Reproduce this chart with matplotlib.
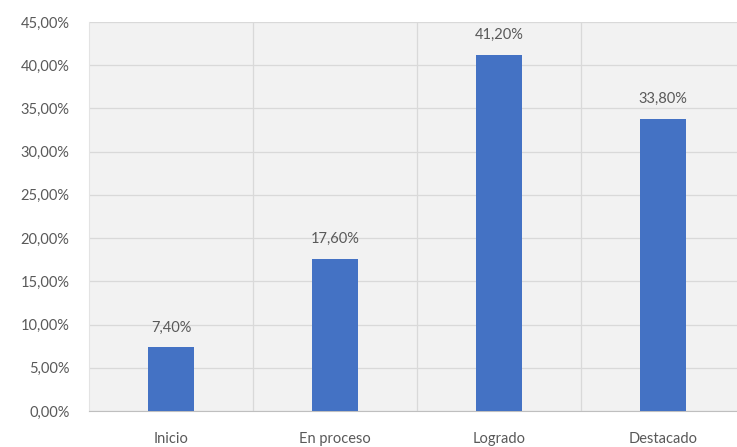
import matplotlib.pyplot as plt
from matplotlib.ticker import FuncFormatter

categories = ["Inicio", "En proceso", "Logrado", "Destacado"]
values = [7.40, 17.60, 41.20, 33.80]
yticks = [0, 5, 10, 15, 20, 25, 30, 35, 40, 45]

plt.rcParams['font.family'] = ['Lato', 'DejaVu Sans']

fig = plt.figure(figsize=(7.37, 4.47), dpi=100)
# plot area runs off the right edge as in the original
ax = fig.add_axes([89 / 737, 1 - 411 / 447, 656 / 737, 389 / 447])
ax.set_facecolor("#f2f2f2")

x = range(len(categories))
bars = ax.bar(x, values, width=0.275, color="#4472c4", zorder=3)

for b, v in zip(bars, values):
    ax.annotate(f"{v:.2f}%".replace(".", ","),
                xy=(b.get_x() + b.get_width() / 2, v),
                xytext=(0, 9), textcoords="offset points",
                ha="center", va="bottom", fontsize=10.5, color="#595959")

ax.set_xlim(-0.5, len(categories) - 0.5)
ax.set_ylim(0, 45)
ax.set_yticks(yticks)
ax.yaxis.set_major_formatter(FuncFormatter(lambda v, _: f"{v:.2f}%".replace(".", ",")))

ax.set_xticks(list(x))
ax.set_xticklabels(categories)
ax.set_xticks([i + 0.5 for i in range(len(categories) - 1)], minor=True)

ax.grid(axis="y", which="major", color="#d9d9d9", linewidth=0.9, zorder=0)
ax.grid(axis="x", which="minor", color="#d9d9d9", linewidth=0.9, zorder=0)

for side in ["top", "right"]:
    ax.spines[side].set_visible(False)
ax.spines["left"].set_color("#e3e3e3")
ax.spines["bottom"].set_color("#bfbfbf")

ax.tick_params(axis="both", which="both", length=0, colors="#595959", labelsize=10.5)
ax.tick_params(axis="x", pad=15)
ax.tick_params(axis="y", pad=14)

fig.savefig("out.png", dpi=100)
